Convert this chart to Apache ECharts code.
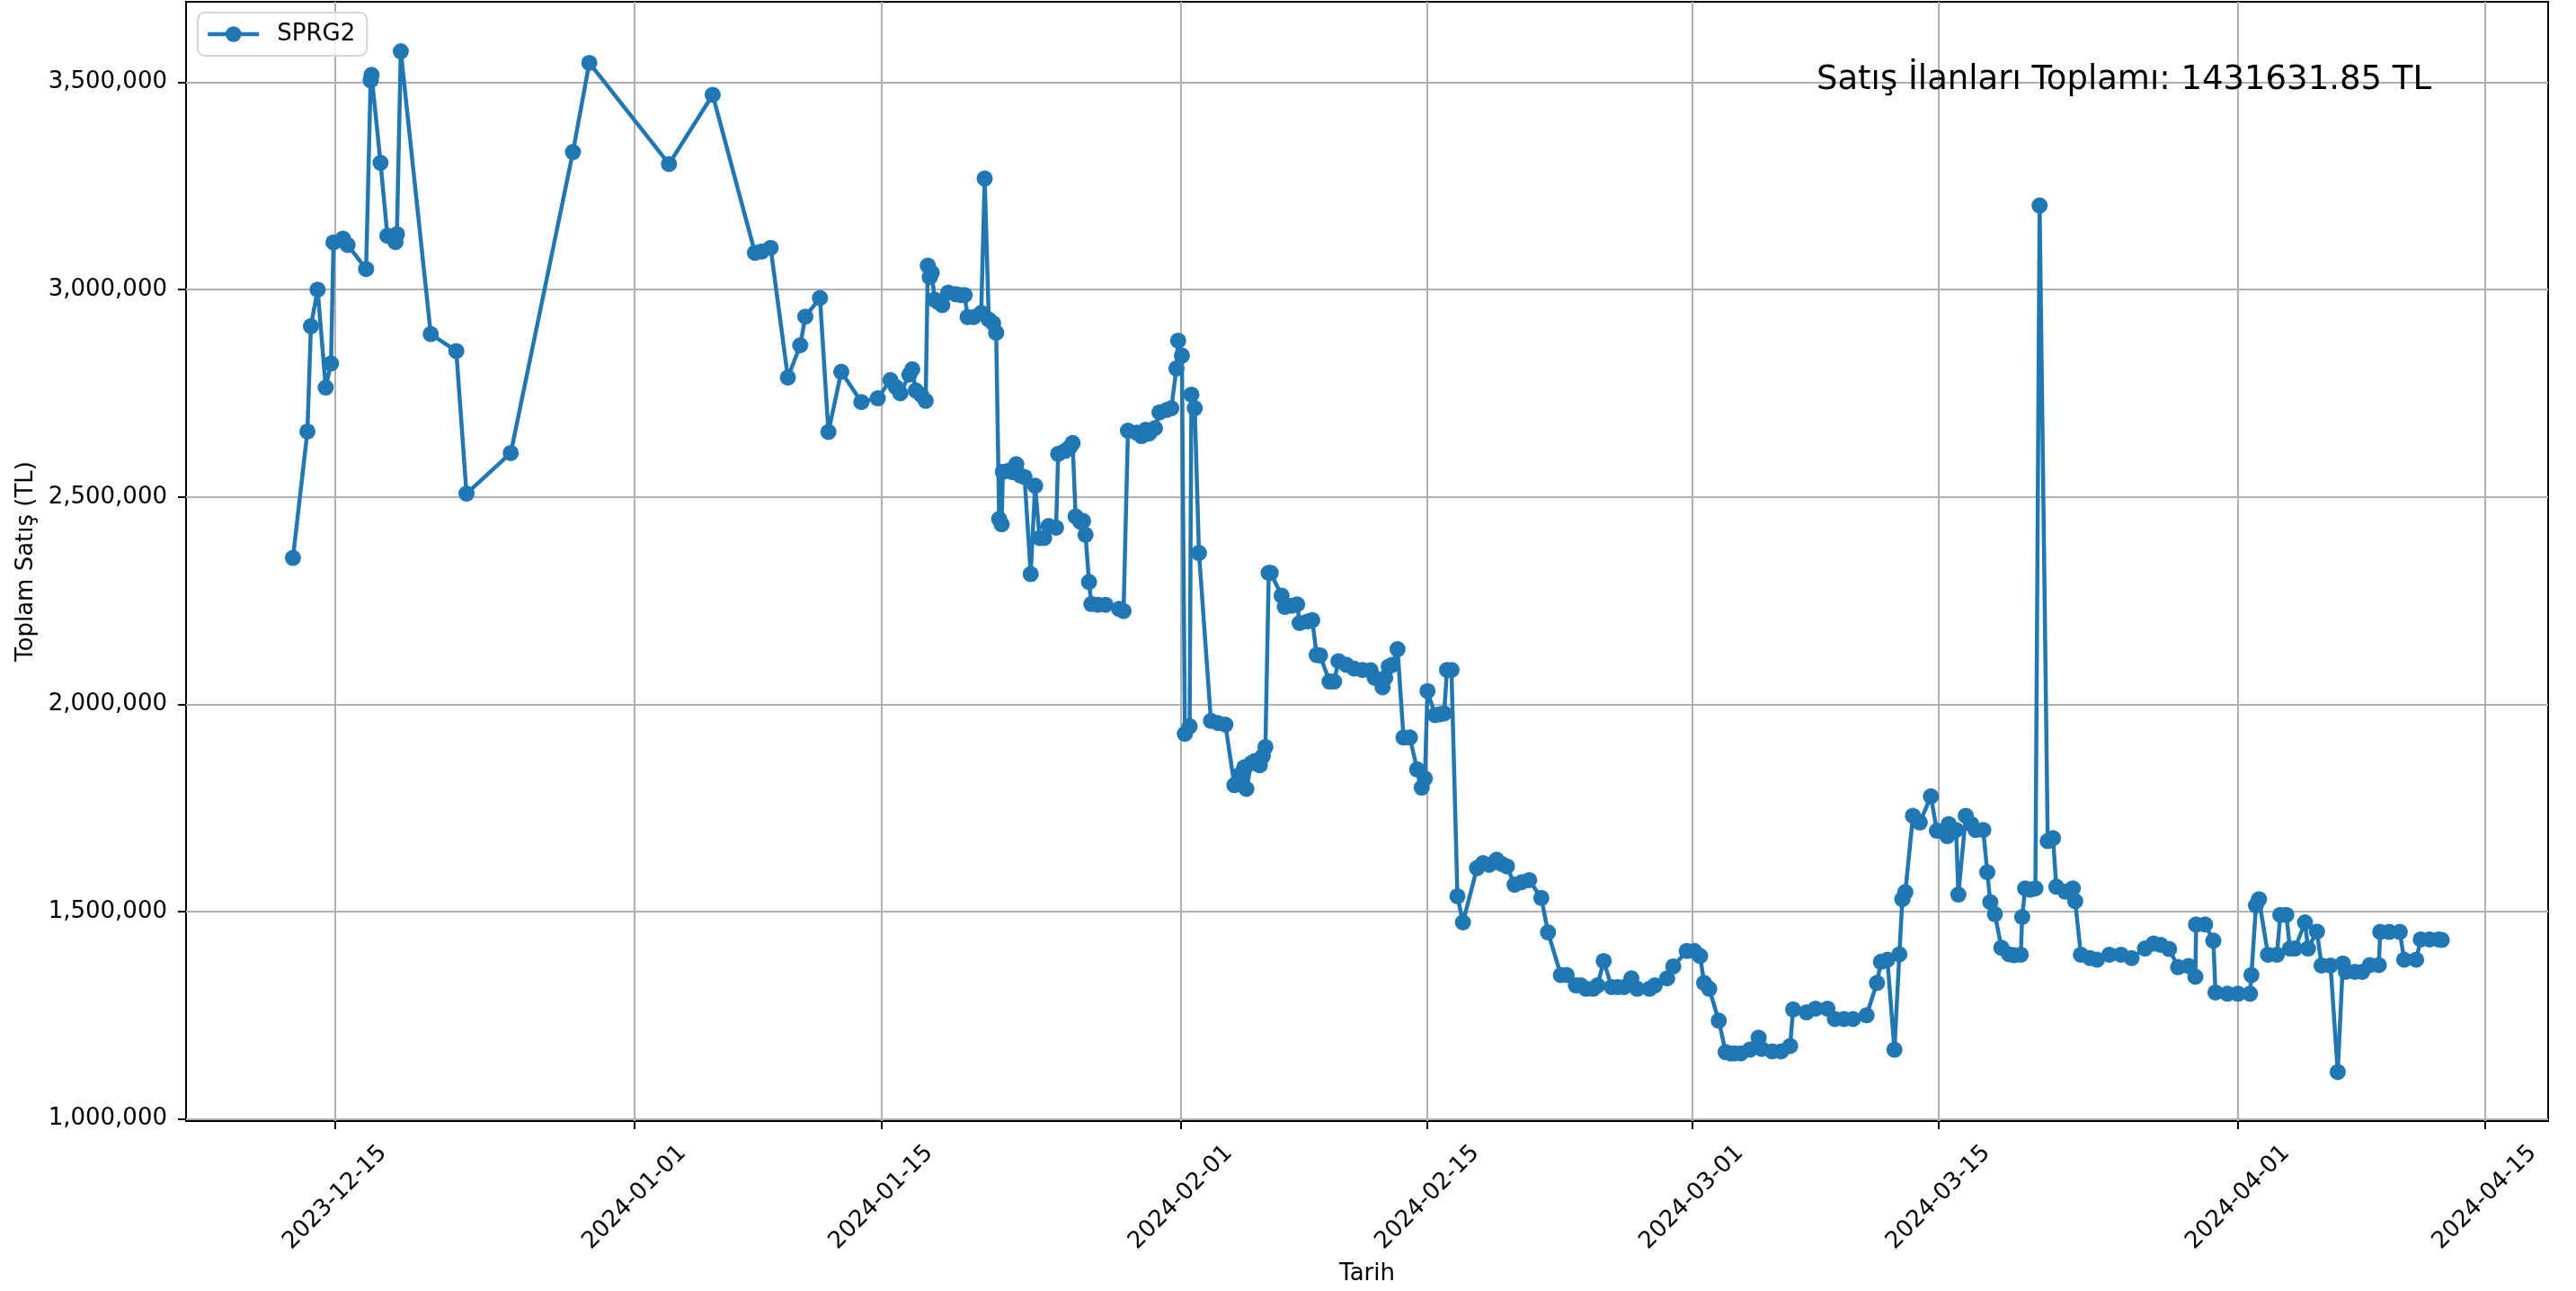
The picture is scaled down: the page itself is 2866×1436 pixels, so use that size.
<!DOCTYPE html>
<html>
<head>
<meta charset="utf-8">
<script src="https://cdn.jsdelivr.net/npm/echarts@6/dist/echarts.min.js"></script>
<style>
  html, body { margin: 0; padding: 0; background: #fff; }
  #chart { width: 2866px; height: 1436px; }
</style>
</head>
<body>
<div id="chart"></div>
<script>
// days after 2023-12-15 00:00 for each listing snapshot
var dayOffsets = [
  -2.39, -1.57, -1.37, -0.99, -0.53, -0.23, -0.09, 0.45, 0.71, 1.76,
  2.02, 2.07, 2.58, 2.97, 3.43, 3.51, 3.73, 5.43, 6.88, 7.46,
  9.97, 13.5, 14.43, 18.95, 21.43, 23.83, 24.2, 24.72, 25.7, 26.4,
  26.69, 27.52, 28.0, 28.73, 29.87, 30.8, 31.52, 31.83, 32.08, 32.59,
  32.76, 32.96, 33.27, 33.52, 33.64, 33.75, 33.86, 34.03, 34.25, 34.46,
  34.8, 35.22, 35.5, 35.73, 35.9, 36.24, 36.67, 36.87, 37.1, 37.35,
  37.52, 37.69, 37.83, 37.9, 38.2, 38.45, 38.66, 38.9, 39.13, 39.48,
  39.73, 39.99, 40.24, 40.5, 40.92, 41.04, 41.43, 41.7, 41.86, 42.03,
  42.3, 42.45, 42.59, 42.79, 42.92, 43.3, 43.73, 44.5, 44.75, 45.0,
  45.5, 45.77, 46.0, 46.2, 46.53, 46.79, 47.2, 47.46, 47.75, 47.85,
  48.06, 48.23, 48.5, 48.6, 48.79, 49.03, 49.71, 50.1, 50.53, 51.04,
  51.35, 51.6, 51.72, 52.0, 52.2, 52.48, 52.65, 52.8, 52.99, 53.1,
  53.72, 53.9, 54.3, 54.6, 54.74, 55.2, 55.46, 55.71, 55.9, 56.44,
  56.7, 56.95, 57.4, 57.84, 58.3, 58.77, 59.0, 59.45, 59.6, 59.8,
  60.0, 60.3, 60.64, 61.0, 61.41, 61.67, 61.85, 62.0, 62.43, 62.7,
  62.94, 63.11, 63.36, 63.7, 64.01, 64.81, 65.15, 65.5, 65.92, 66.2,
  66.51, 66.94, 67.35, 67.77, 68.46, 68.84, 69.57, 69.9, 70.42, 70.7,
  71.0, 71.4, 71.65, 72.0, 72.45, 72.8, 73.15, 73.57, 73.9, 74.6,
  74.9, 75.6, 75.95, 76.71, 77.14, 77.47, 77.7, 77.99, 78.53, 78.92,
  79.2, 79.44, 79.78, 80.29, 80.79, 80.96, 81.56, 82.07, 82.58, 82.75,
  83.51, 84.02, 84.7, 85.12, 85.63, 86.15, 86.92, 87.51, 87.73, 88.1,
  88.5, 88.78, 88.95, 89.12, 89.55, 89.94, 90.57, 90.91, 91.5, 91.58,
  92.0, 92.13, 92.55, 92.86, 93.11, 93.54, 93.77, 93.94, 94.2, 94.57,
  95.0, 95.3, 95.67, 95.75, 95.92, 96.2, 96.5, 96.74, 97.2, 97.5,
  97.69, 98.2, 98.62, 98.76, 99.08, 99.6, 100.0, 100.7, 101.36, 101.96,
  102.72, 103.2, 103.6, 104.09, 104.6, 105.19, 105.58, 105.62, 106.13, 106.6,
  106.72, 107.4, 108.0, 108.68, 108.76, 109.02, 109.19, 109.7, 110.21, 110.4,
  110.74, 110.95, 111.23, 111.8, 111.97, 112.48, 112.74, 113.25, 113.66, 113.95,
  114.12, 114.63, 115.05, 115.48, 115.99, 116.07, 116.58, 117.18, 117.43, 118.11,
  118.37, 118.88, 119.39, 119.56
];

// toplam satış (TL)
var totals = [
  2353000, 2658000, 2912000, 3000000, 2764000, 2822000, 3114000, 3123000, 3108000, 3050000,
  3505000, 3518000, 3306000, 3130000, 3115000, 3134000, 3575000, 2893000, 2852000, 2508000,
  2606000, 3332000, 3547000, 3303000, 3470000, 3089000, 3092000, 3101000, 2788000, 2866000,
  2935000, 2980000, 2657000, 2802000, 2729000, 2738000, 2782000, 2765000, 2750000, 2795000,
  2808000, 2757000, 2746000, 2732000, 3058000, 3030000, 3041000, 2976000, 2970000, 2963000,
  2993000, 2989000, 2987000, 2987000, 2934000, 2934000, 2944000, 3268000, 2928000, 2919000,
  2896000, 2447000, 2434000, 2561000, 2563000, 2560000, 2579000, 2552000, 2548000, 2314000,
  2527000, 2401000, 2401000, 2430000, 2426000, 2604000, 2611000, 2620000, 2630000, 2453000,
  2440000, 2442000, 2409000, 2295000, 2242000, 2240000, 2240000, 2230000, 2225000, 2660000,
  2655000, 2647000, 2662000, 2653000, 2666000, 2704000, 2710000, 2714000, 2810000, 2877000,
  2841000, 1929000, 1947000, 2747000, 2714000, 2365000, 1960000, 1955000, 1951000, 1805000,
  1830000, 1848000, 1796000, 1858000, 1863000, 1853000, 1875000, 1897000, 2317000, 2317000,
  2262000, 2235000, 2238000, 2241000, 2196000, 2200000, 2203000, 2119000, 2118000, 2055000,
  2055000, 2104000, 2095000, 2086000, 2083000, 2082000, 2064000, 2041000, 2064000, 2091000,
  2095000, 2133000, 1920000, 1920000, 1843000, 1799000, 1821000, 2032000, 1974000, 1976000,
  1978000, 2083000, 2083000, 1537000, 1474000, 1605000, 1617000, 1613000, 1625000, 1615000,
  1609000, 1565000, 1571000, 1576000, 1533000, 1450000, 1347000, 1347000, 1322000, 1322000,
  1314000, 1314000, 1322000, 1381000, 1318000, 1318000, 1318000, 1339000, 1314000, 1314000,
  1322000, 1339000, 1368000, 1405000, 1405000, 1393000, 1328000, 1314000, 1237000, 1161000,
  1158000, 1158000, 1158000, 1167000, 1196000, 1169000, 1163000, 1163000, 1176000, 1264000,
  1257000, 1266000, 1266000, 1241000, 1241000, 1241000, 1250000, 1328000, 1379000, 1384000,
  1167000, 1397000, 1530000, 1547000, 1731000, 1715000, 1778000, 1695000, 1682000, 1711000,
  1697000, 1541000, 1731000, 1711000, 1697000, 1697000, 1595000, 1523000, 1494000, 1413000,
  1397000, 1395000, 1396000, 1487000, 1556000, 1553000, 1556000, 3203000, 1670000, 1677000,
  1560000, 1548000, 1556000, 1525000, 1396000, 1388000, 1384000, 1396000, 1396000, 1388000,
  1411000, 1423000, 1420000, 1410000, 1366000, 1369000, 1343000, 1469000, 1469000, 1430000,
  1305000, 1302000, 1302000, 1302000, 1347000, 1515000, 1530000, 1396000, 1396000, 1492000,
  1492000, 1411000, 1411000, 1474000, 1411000, 1452000, 1370000, 1370000, 1113000, 1375000,
  1355000, 1355000, 1355000, 1371000, 1371000, 1451000, 1451000, 1451000, 1384000, 1384000,
  1433000, 1433000, 1433000, 1431631.85
];

var xTickDates = ['2023-12-15', '2024-01-01', '2024-01-15', '2024-02-01', '2024-02-15',
                  '2024-03-01', '2024-03-15', '2024-04-01', '2024-04-15'];
var yTicks = [1000000, 1500000, 2000000, 2500000, 3000000, 3500000];

var seriesName = 'SPRG2';
var totalText = 'Satış İlanları Toplamı: 1431631.85 TL';

var DAY = 86400000;
var baseDay = Date.UTC(2023, 11, 15);
var FONT = 'DejaVu Sans';

var seriesData = dayOffsets.map(function (d, i) {
    return [baseDay + d * DAY, totals[i]];
});
var xTickValues = xTickDates.map(function (s) { return Date.parse(s); });

var chart = echarts.init(document.getElementById('chart'), null, { renderer: 'canvas' });

var option = {
    animation: false,
    backgroundColor: '#ffffff',
    textStyle: { fontFamily: FONT },
    title: {
        text: totalText,
        right: 161,
        top: 71,
        padding: 0,
        textStyle: { fontFamily: FONT, fontSize: 37, fontWeight: 'normal', color: '#000' }
    },
    legend: {
        left: 220,
        top: 14,
        orient: 'vertical',
        data: [seriesName],
        itemWidth: 57,
        itemHeight: 22,
        padding: [11, 13, 11, 9],
        backgroundColor: 'rgba(255,255,255,0.8)',
        borderColor: '#d5d5d5',
        borderWidth: 2,
        borderRadius: 8,
        lineStyle: { width: 4.5 },
        textStyle: { fontFamily: FONT, fontSize: 26, color: '#000', padding: [0, 0, 0, 15], lineHeight: 26 }
    },
    grid: {
        left: 207,
        top: 2,
        width: 2628,
        height: 1245,
        show: true,
        borderColor: '#000',
        borderWidth: 2,
        containLabel: false,
        outerBoundsMode: 'none'
    },
    xAxis: {
        type: 'value',
        min: baseDay - 8.457 * DAY,
        max: baseDay + 125.6 * DAY,
        name: 'Tarih',
        nameLocation: 'middle',
        nameGap: 157,
        nameTextStyle: { fontFamily: FONT, fontSize: 26, color: '#000' },
        axisLine: { show: false },
        axisTick: {
            show: true,
            length: 9,
            lineStyle: { color: '#000', width: 2 },
            customValues: xTickValues
        },
        axisLabel: {
            rotate: 45,
            align: 'center',
            verticalAlign: 'middle',
            margin: 85,
            fontFamily: FONT,
            fontSize: 26,
            color: '#000',
            customValues: xTickValues,
            formatter: function (v) { return new Date(v).toISOString().slice(0, 10); }
        },
        splitLine: { show: true, lineStyle: { color: '#b0b0b0', width: 2 } }
    },
    yAxis: {
        type: 'value',
        min: 994800,
        max: 3694300,
        name: 'Toplam Satış (TL)',
        nameLocation: 'middle',
        nameRotate: 90,
        nameGap: 165,
        nameTextStyle: { fontFamily: FONT, fontSize: 26, color: '#000' },
        axisLine: { show: false },
        axisTick: {
            show: true,
            length: 9,
            lineStyle: { color: '#000', width: 2 },
            customValues: yTicks
        },
        axisLabel: {
            margin: 21,
            fontFamily: FONT,
            fontSize: 26,
            color: '#000',
            customValues: yTicks,
            formatter: function (v) { return Math.round(v).toLocaleString('en-US'); }
        },
        splitLine: { show: true, lineStyle: { color: '#b0b0b0', width: 2 } }
    },
    series: [
        {
            name: seriesName,
            type: 'line',
            data: seriesData,
            symbol: 'circle',
            symbolSize: 18,
            showAllSymbol: true,
            color: '#1f77b4',
            lineStyle: { color: '#1f77b4', width: 4.5 },
            itemStyle: { color: '#1f77b4', borderWidth: 0 }
        }
    ]
};

chart.setOption(option);
</script>
</body>
</html>
